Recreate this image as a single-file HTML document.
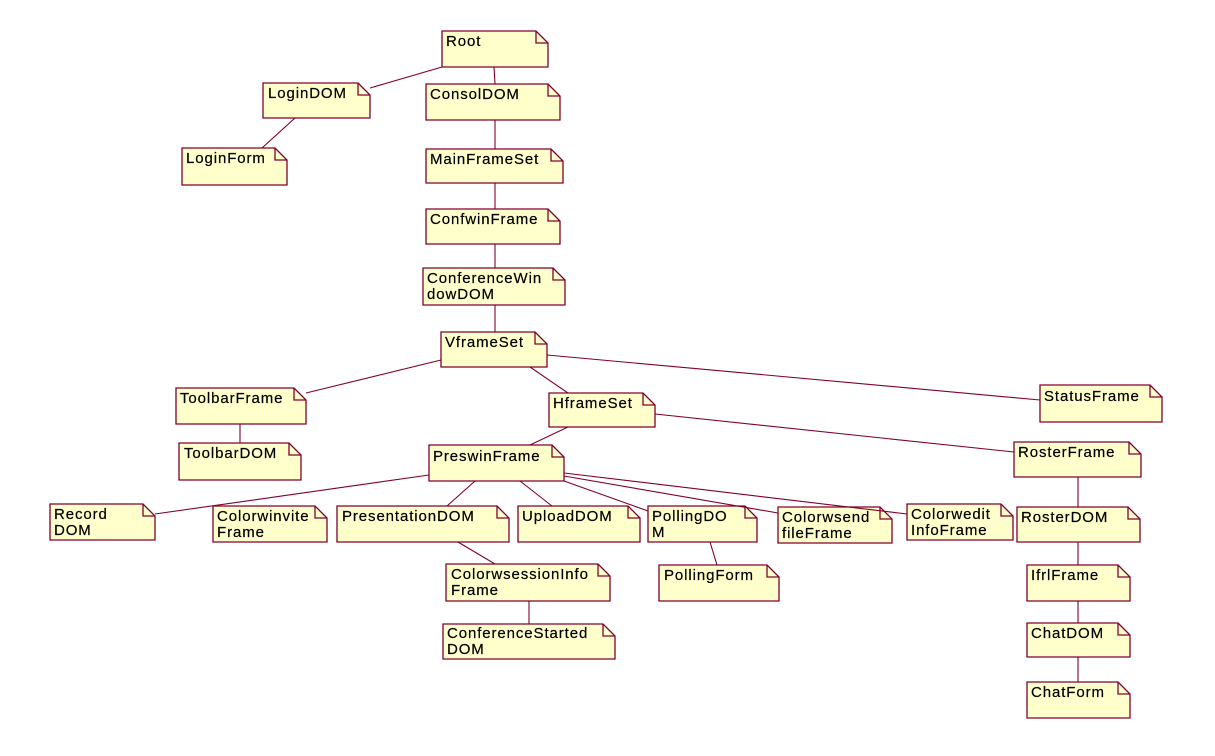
<!DOCTYPE html>
<html><head><meta charset="utf-8"><style>
body{margin:0;background:#fff}
svg text{font-family:"Liberation Sans",Arial,sans-serif;font-size:15px;fill:#000;letter-spacing:0.9px;stroke:#000;stroke-width:0.2}
.n{fill:#ffffcc;stroke:#800030;stroke-width:1.3}
.f{fill:none;stroke:#800030;stroke-width:1.3}
.l{stroke:#800030;stroke-width:1.1;fill:none}
</style></head><body>
<svg width="1215" height="751" xmlns="http://www.w3.org/2000/svg">
<g class="l">
<line x1="442" y1="67" x2="370" y2="88"/>
<line x1="494" y1="67" x2="495" y2="84"/>
<line x1="295" y1="118" x2="262" y2="148"/>
<line x1="495" y1="120" x2="495" y2="149"/>
<line x1="495" y1="183" x2="495" y2="209"/>
<line x1="495" y1="244" x2="495" y2="268"/>
<line x1="495" y1="305" x2="495" y2="332"/>
<line x1="441" y1="360" x2="306" y2="393"/>
<line x1="530" y1="367" x2="568" y2="393"/>
<line x1="547" y1="355" x2="1040" y2="400"/>
<line x1="240" y1="424" x2="240" y2="443"/>
<line x1="568" y1="427" x2="530" y2="445"/>
<line x1="655" y1="414" x2="1014" y2="452"/>
<line x1="429" y1="475" x2="155" y2="514"/>
<line x1="475" y1="481" x2="447" y2="506"/>
<line x1="520" y1="481" x2="552" y2="506"/>
<line x1="564" y1="481" x2="648" y2="511"/>
<line x1="458" y1="542" x2="495" y2="564"/>
<line x1="529" y1="601" x2="529" y2="624"/>
<line x1="710" y1="542" x2="717" y2="565"/>
<line x1="1078" y1="477" x2="1078" y2="507"/>
<line x1="1078" y1="542" x2="1078" y2="565"/>
<line x1="1078" y1="601" x2="1078" y2="623"/>
<line x1="1078" y1="657" x2="1078" y2="682"/>
</g>
<g>
<path class="n" d="M442,31H536L548,43V67H442Z"/><path class="f" d="M536,31V43H548"/><text x="446" y="46">Root</text>
<path class="n" d="M263,83H358L370,95V118H263Z"/><path class="f" d="M358,83V95H370"/><text x="268" y="98">LoginDOM</text>
<path class="n" d="M426,84H548L560,96V120H426Z"/><path class="f" d="M548,84V96H560"/><text x="430" y="99">ConsolDOM</text>
<path class="n" d="M182,148H275L287,160V185H182Z"/><path class="f" d="M275,148V160H287"/><text x="186" y="163">LoginForm</text>
<path class="n" d="M426,149H551L563,161V183H426Z"/><path class="f" d="M551,149V161H563"/><text x="430" y="164">MainFrameSet</text>
<path class="n" d="M426,209H548L560,221V244H426Z"/><path class="f" d="M548,209V221H560"/><text x="430" y="224">ConfwinFrame</text>
<path class="n" d="M423,268H553L565,280V305H423Z"/><path class="f" d="M553,268V280H565"/><text x="427" y="283">ConferenceWin</text><text x="427" y="299">dowDOM</text>
<path class="n" d="M441,332H535L547,344V367H441Z"/><path class="f" d="M535,332V344H547"/><text x="445" y="347">VframeSet</text>
<path class="n" d="M176,388H294L306,400V424H176Z"/><path class="f" d="M294,388V400H306"/><text x="180" y="403">ToolbarFrame</text>
<path class="n" d="M549,393H643L655,405V427H549Z"/><path class="f" d="M643,393V405H655"/><text x="553" y="408">HframeSet</text>
<path class="n" d="M1040,385H1150L1162,397V422H1040Z"/><path class="f" d="M1150,385V397H1162"/><text x="1044" y="401">StatusFrame</text>
<path class="n" d="M179,443H289L301,455V480H179Z"/><path class="f" d="M289,443V455H301"/><text x="184" y="458">ToolbarDOM</text>
<path class="n" d="M429,445H552L564,457V481H429Z"/><path class="f" d="M552,445V457H564"/><text x="433" y="461">PreswinFrame</text>
<path class="n" d="M1014,442H1129L1141,454V477H1014Z"/><path class="f" d="M1129,442V454H1141"/><text x="1018" y="457">RosterFrame</text>
<path class="n" d="M50,504H143L155,516V540H50Z"/><path class="f" d="M143,504V516H155"/><text x="54" y="519">Record</text><text x="54" y="535">DOM</text>
<path class="n" d="M213,506H315L327,518V542H213Z"/><path class="f" d="M315,506V518H327"/><text x="217" y="521">Colorwinvite</text><text x="217" y="537">Frame</text>
<path class="n" d="M337,506H497L509,518V542H337Z"/><path class="f" d="M497,506V518H509"/><text x="342" y="521">PresentationDOM</text>
<path class="n" d="M518,506H628L640,518V542H518Z"/><path class="f" d="M628,506V518H640"/><text x="522" y="521">UploadDOM</text>
<path class="n" d="M648,506H745L757,518V542H648Z"/><path class="f" d="M745,506V518H757"/><text x="652" y="521">PollingDO</text><text x="652" y="537">M</text>
<path class="n" d="M778,507H880L892,519V543H778Z"/><path class="f" d="M880,507V519H892"/><text x="782" y="522">Colorwsend</text><text x="782" y="538">fileFrame</text>
<path class="n" d="M907,504H1001L1013,516V540H907Z"/><path class="f" d="M1001,504V516H1013"/><text x="911" y="519">Colorwedit</text><text x="911" y="535">InfoFrame</text>
<path class="n" d="M1017,507H1128L1140,519V542H1017Z"/><path class="f" d="M1128,507V519H1140"/><text x="1021" y="522">RosterDOM</text>
<path class="n" d="M446,564H598L610,576V601H446Z"/><path class="f" d="M598,564V576H610"/><text x="451" y="579">ColorwsessionInfo</text><text x="451" y="595">Frame</text>
<path class="n" d="M659,565H767L779,577V601H659Z"/><path class="f" d="M767,565V577H779"/><text x="664" y="580">PollingForm</text>
<path class="n" d="M1027,565H1118L1130,577V601H1027Z"/><path class="f" d="M1118,565V577H1130"/><text x="1031" y="580">IfrlFrame</text>
<path class="n" d="M443,624H603L615,636V659H443Z"/><path class="f" d="M603,624V636H615"/><text x="447" y="638">ConferenceStarted</text><text x="447" y="654">DOM</text>
<path class="n" d="M1027,623H1118L1130,635V657H1027Z"/><path class="f" d="M1118,623V635H1130"/><text x="1031" y="638">ChatDOM</text>
<path class="n" d="M1027,682H1118L1130,694V718H1027Z"/><path class="f" d="M1118,682V694H1130"/><text x="1031" y="697">ChatForm</text>
</g>
<g class="l">
<line x1="564" y1="476" x2="778" y2="513"/>
<line x1="564" y1="473" x2="907" y2="514"/>
</g>
</svg>
</body></html>
